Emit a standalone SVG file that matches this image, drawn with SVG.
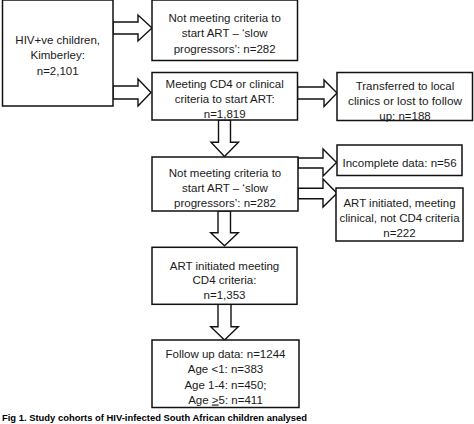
<svg xmlns="http://www.w3.org/2000/svg" width="474" height="424" viewBox="0 0 474 424">
<style>
.box{fill:#fff;stroke:#111;stroke-width:1.5}
.arr{fill:#fff;stroke:#111;stroke-width:1.4;stroke-linejoin:miter}
text{font-family:"Liberation Sans",Arial,sans-serif;font-size:11.5px;fill:#1a1a1a;text-anchor:middle}
.cap{font-weight:bold;font-size:9.5px;text-anchor:start;fill:#000}
</style>
<rect width="474" height="424" fill="#fff"/>
<g id="connectors">
<path class="arr" d="M113,22 L138,22 L138,15 L152,28 L138,41 L138,34 L113,34 Z"/>
<path class="arr" d="M113,86 L138,86 L138,79 L151,92.5 L138,106 L138,99 L113,99 Z"/>
<path class="arr" d="M297.5,87 L324,87 L324,80 L337,93 L324,106.5 L324,99 L297.5,99 Z"/>
<path class="arr" d="M298,158 L323,158 L323,149 L336.5,162.5 L323,176 L323,168 L298,168 Z"/>
<path class="arr" d="M298,188.3 L323,188.3 L323,179 L337,193.3 L323,207 L323,198.7 L298,198.7 Z"/>
<path class="arr" d="M218.5,120 L218.5,142.3 L211,142.3 L224.5,156.5 L238.5,142.3 L230.5,142.3 L230.5,120 Z"/>
<path class="arr" d="M218,211 L218,232.7 L210.7,232.7 L224.5,245.7 L238.3,232.7 L230.5,232.7 L230.5,211 Z"/>
<path class="arr" d="M218,304.3 L218,326.7 L210.7,326.7 L224.5,340 L238.3,326.7 L231,326.7 L231,304.3 Z"/>
</g>
<g id="hiv">
<rect class="box" x="2.5" y="0" width="110.5" height="106"/>
<text x="57.7" y="43.5">HIV+ve children,</text>
<text x="57.7" y="59">Kimberley:</text>
<text x="57.7" y="74.5">n=2,101</text>
</g>
<g id="notmeeting1">
<rect class="box" x="152" y="0" width="145.5" height="60.5"/>
<text x="224.7" y="21.5">Not meeting criteria to</text>
<text x="224.7" y="37">start ART – ‘slow</text>
<text x="224.7" y="52.5">progressors’: n=282</text>
</g>
<g id="meeting">
<rect class="box" x="152" y="72.5" width="145.5" height="47.5"/>
<text x="224.7" y="87.5">Meeting CD4 or clinical</text>
<text x="224.7" y="103">criteria to start ART:</text>
<text x="224.7" y="118">n=1,819</text>
</g>
<g id="transferred">
<rect class="box" x="337" y="72.5" width="135.5" height="48"/>
<text x="405" y="89.5">Transferred to local</text>
<text x="405" y="104.5" textLength="114" lengthAdjust="spacingAndGlyphs">clinics or lost to follow</text>
<text x="405" y="119.5">up: n=188</text>
</g>
<g id="notmeeting2">
<rect class="box" x="152" y="157" width="146" height="54"/>
<text x="225" y="177">Not meeting criteria to</text>
<text x="225" y="192">start ART – ‘slow</text>
<text x="225" y="207">progressors’: n=282</text>
</g>
<g id="incomplete">
<rect class="box" x="337" y="145" width="125" height="30.5"/>
<text x="399.5" y="167">Incomplete data: n=56</text>
</g>
<g id="artclinical">
<rect class="box" x="336" y="188" width="127" height="53"/>
<text x="399.5" y="207" textLength="112" lengthAdjust="spacingAndGlyphs">ART initiated, meeting</text>
<text x="399.5" y="222" textLength="120" lengthAdjust="spacingAndGlyphs">clinical, not CD4 criteria</text>
<text x="399.5" y="236.5">n=222</text>
</g>
<g id="artcd4">
<rect class="box" x="152" y="247.3" width="145" height="57"/>
<text x="224.5" y="269.5">ART initiated meeting</text>
<text x="224.5" y="284">CD4 criteria:</text>
<text x="224.5" y="299">n=1,353</text>
</g>
<g id="followup">
<rect class="box" x="152" y="340" width="147" height="67.5"/>
<text x="225.5" y="357.5">Follow up data: n=1244</text>
<text x="225.5" y="373">Age &lt;1: n=383</text>
<text x="225.5" y="388.5">Age 1-4: n=450;</text>
<text x="225.5" y="403.5">Age <tspan text-decoration="underline">&gt;</tspan>5: n=411</text>
</g>
<text class="cap" x="2" y="421" textLength="305" lengthAdjust="spacingAndGlyphs">Fig 1. Study cohorts of HIV-infected South African children analysed</text>
</svg>
